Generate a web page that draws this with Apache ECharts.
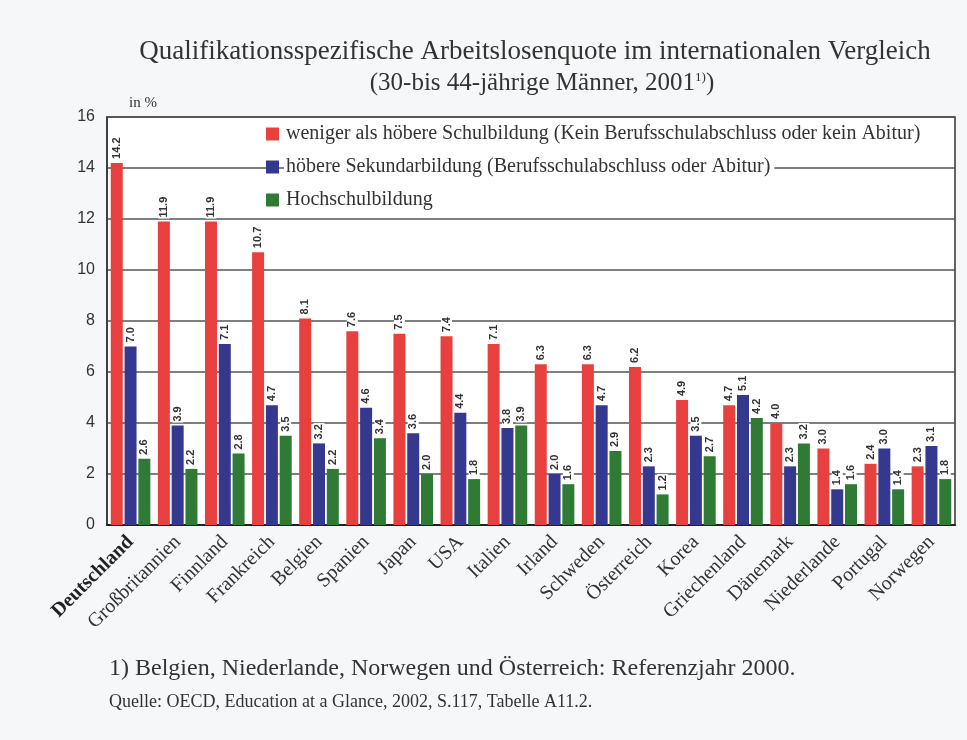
<!DOCTYPE html>
<html><head><meta charset="utf-8">
<script src="https://cdn.jsdelivr.net/npm/echarts@6/dist/echarts.min.js"></script>
<style>html,body{margin:0;padding:0;background:#f6f7f9;}#c{width:967px;height:740px;}</style>
</head><body><div id="c"></div>
<script>
const categories = ["Deutschland","Großbritannien","Finnland","Frankreich","Belgien","Spanien","Japan","USA","Italien","Irland","Schweden","Österreich","Korea","Griechenland","Dänemark","Niederlande","Portugal","Norwegen"];
const seriesNames = ["weniger als höbere Schulbildung (Kein Berufsschulabschluss oder kein Abitur)","höbere Sekundarbildung (Berufsschulabschluss oder Abitur)","Hochschulbildung"];
const lowEdu = [14.2,11.9,11.9,10.7,8.1,7.6,7.5,7.4,7.1,6.3,6.3,6.2,4.9,4.7,4.0,3.0,2.4,2.3];
const secEdu = [7.0,3.9,7.1,4.7,3.2,4.6,3.6,4.4,3.8,2.0,4.7,2.3,3.5,5.1,2.3,1.4,3.0,3.1];
const highEdu = [2.6,2.2,2.8,3.5,2.2,3.4,2.0,1.8,3.9,1.6,2.9,1.2,2.7,4.2,3.2,1.6,1.4,1.8];
const yTicks = [0,2,4,6,8,10,12,14,16];
const colors = ["#e8403f","#35388f","#2f7a35"];

const chart = echarts.init(document.getElementById('c'), null, {renderer:'canvas'});
const serif = "Liberation Serif";
function mk(name, data, color){
  return {
    name, type:'bar', data, barWidth:12, barGap:'15%',
    itemStyle:{color},
    label:{show:true, position:'top', rotate:90, align:'left', verticalAlign:'middle', distance:3,
      fontFamily:'Liberation Sans', fontSize:11, fontWeight:'bold', color:'#333',
      backgroundColor:'#fff', padding:[0,1],
      formatter:p=>p.value.toFixed(1)}
  };
}
chart.setOption({
  backgroundColor:'#f6f7f9',
  animation:false,
  title:[
    {text:'Qualifikationsspezifische Arbeitslosenquote im internationalen Vergleich', left:530, textAlign:'center', top:33,
     textStyle:{fontFamily:serif, fontSize:27, fontWeight:'normal', color:'#333'}},
    {text:'(30-bis 44-jährige Männer, 2001{s|1)})', left:537, textAlign:'center', top:66,
     textStyle:{fontFamily:serif, fontSize:25, fontWeight:'normal', color:'#333',
       rich:{s:{fontFamily:serif, fontSize:13, verticalAlign:'top', color:'#333', padding:[0,0,12,0]}}}},
    {text:'1) Belgien, Niederlande, Norwegen und Österreich: Referenzjahr 2000.', left:104, top:652,
     textStyle:{fontFamily:serif, fontSize:24, fontWeight:'normal', color:'#333'}},
    {text:'Quelle: OECD, Education at a Glance, 2002, S.117, Tabelle A11.2.', left:104, top:688,
     textStyle:{fontFamily:serif, fontSize:18, fontWeight:'normal', color:'#333'}}
  ],
  legend:{
    orient:'vertical', left:261, top:118, itemWidth:13, itemHeight:13, itemGap:11,
    icon:'rect', data:seriesNames,
    textStyle:{fontFamily:serif, fontSize:20, color:'#333', backgroundColor:'#fff', padding:[1,4,1,2]}
  },
  grid:{left:107, right:12, top:117, bottom:215, show:true, borderColor:'#333', borderWidth:1.5, backgroundColor:'#fff'},
  xAxis:{
    type:'category', data:categories,
    axisLine:{lineStyle:{color:'#222', width:2}}, axisTick:{show:false},
    axisLabel:{interval:0, rotate:45, margin:14, fontFamily:serif, fontSize:20, color:'#333',
      formatter:(v,i)=> i===0 ? '{b|'+v+'}' : v,
      rich:{b:{fontFamily:serif, fontSize:20, fontWeight:'bold', color:'#222'}}}
  },
  yAxis:{
    type:'value', min:0, max:16, interval:2,
    name:'in %', nameLocation:'end', nameGap:6,
    nameTextStyle:{fontFamily:serif, fontSize:15, color:'#333', align:'left', padding:[0,0,0,22]},
    axisLine:{show:true, lineStyle:{color:'#333', width:1.5}}, axisTick:{show:false},
    axisLabel:{fontFamily:'Liberation Sans', fontSize:16, color:'#333', margin:12,
      formatter:v=> yTicks.includes(v) ? String(v) : ''},
    splitLine:{lineStyle:{color:'#555', width:1.5}}
  },
  series:[mk(seriesNames[0], lowEdu, colors[0]), mk(seriesNames[1], secEdu, colors[1]), mk(seriesNames[2], highEdu, colors[2])]
});
</script></body></html>
